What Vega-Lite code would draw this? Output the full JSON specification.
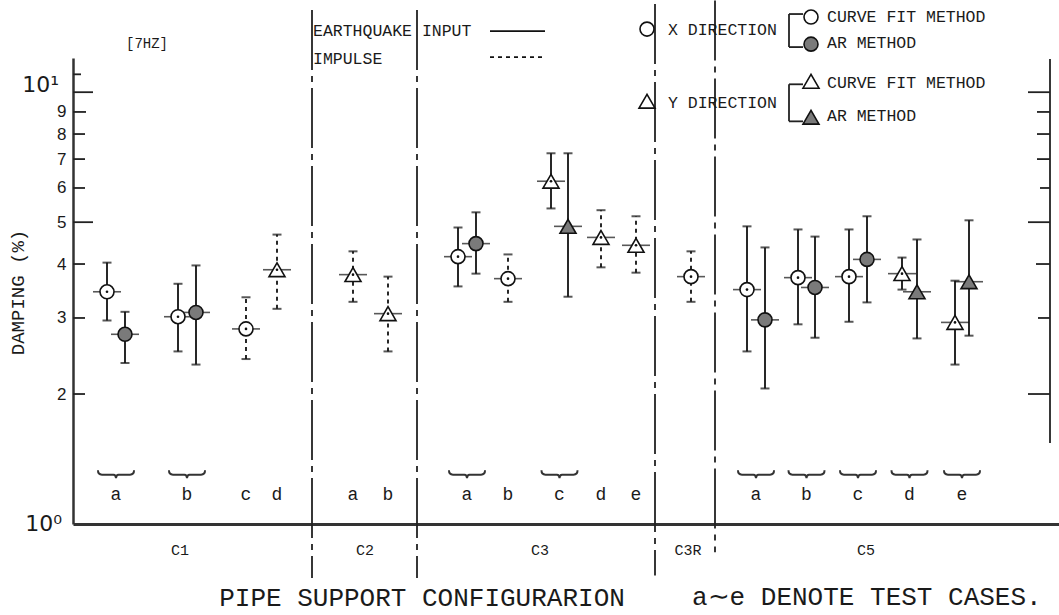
{
  "$schema": "https://vega.github.io/schema/vega-lite/v6.json",
  "width": 986,
  "height": 466,
  "autosize": "none",
  "padding": {"left": 73, "top": 58, "right": 0, "bottom": 91},
  "background": "white",
  "config": {"view": {"stroke": null}, "text": {"color": "#1a1a1a"}},
  "datasets": {
    "pts": [
      {"cfg": "C1", "case": "a", "dir": "X", "method": "CURVE FIT", "input": "EARTHQUAKE INPUT", "pos": 3.4, "val": 3.45, "lo": 2.96, "hi": 4.03},
      {"cfg": "C1", "case": "a", "dir": "X", "method": "AR", "input": "EARTHQUAKE INPUT", "pos": 5.2, "val": 2.75, "lo": 2.36, "hi": 3.10},
      {"cfg": "C1", "case": "b", "dir": "X", "method": "CURVE FIT", "input": "EARTHQUAKE INPUT", "pos": 10.5, "val": 3.02, "lo": 2.51, "hi": 3.60},
      {"cfg": "C1", "case": "b", "dir": "X", "method": "AR", "input": "EARTHQUAKE INPUT", "pos": 12.3, "val": 3.09, "lo": 2.34, "hi": 3.97},
      {"cfg": "C1", "case": "c", "dir": "X", "method": "CURVE FIT", "input": "IMPULSE", "pos": 17.3, "val": 2.83, "lo": 2.41, "hi": 3.35},
      {"cfg": "C1", "case": "d", "dir": "Y", "method": "CURVE FIT", "input": "IMPULSE", "pos": 20.4, "val": 3.88, "lo": 3.15, "hi": 4.68},
      {"cfg": "C2", "case": "a", "dir": "Y", "method": "CURVE FIT", "input": "IMPULSE", "pos": 28.0, "val": 3.78, "lo": 3.27, "hi": 4.28},
      {"cfg": "C2", "case": "b", "dir": "Y", "method": "CURVE FIT", "input": "IMPULSE", "pos": 31.5, "val": 3.07, "lo": 2.51, "hi": 3.74},
      {"cfg": "C3", "case": "a", "dir": "X", "method": "CURVE FIT", "input": "EARTHQUAKE INPUT", "pos": 38.5, "val": 4.16, "lo": 3.55, "hi": 4.86},
      {"cfg": "C3", "case": "a", "dir": "X", "method": "AR", "input": "EARTHQUAKE INPUT", "pos": 40.3, "val": 4.46, "lo": 3.80, "hi": 5.27},
      {"cfg": "C3", "case": "b", "dir": "X", "method": "CURVE FIT", "input": "IMPULSE", "pos": 43.5, "val": 3.70, "lo": 3.27, "hi": 4.21},
      {"cfg": "C3", "case": "c", "dir": "Y", "method": "CURVE FIT", "input": "EARTHQUAKE INPUT", "pos": 47.8, "val": 6.22, "lo": 5.38, "hi": 7.22},
      {"cfg": "C3", "case": "c", "dir": "Y", "method": "AR", "input": "EARTHQUAKE INPUT", "pos": 49.5, "val": 4.89, "lo": 3.36, "hi": 7.22},
      {"cfg": "C3", "case": "d", "dir": "Y", "method": "CURVE FIT", "input": "IMPULSE", "pos": 52.8, "val": 4.61, "lo": 3.93, "hi": 5.33},
      {"cfg": "C3", "case": "e", "dir": "Y", "method": "CURVE FIT", "input": "IMPULSE", "pos": 56.3, "val": 4.42, "lo": 3.82, "hi": 5.16},
      {"cfg": "C3R", "case": "", "dir": "X", "method": "CURVE FIT", "input": "IMPULSE", "pos": 61.8, "val": 3.74, "lo": 3.27, "hi": 4.28},
      {"cfg": "C5", "case": "a", "dir": "X", "method": "CURVE FIT", "input": "EARTHQUAKE INPUT", "pos": 67.4, "val": 3.49, "lo": 2.51, "hi": 4.89},
      {"cfg": "C5", "case": "a", "dir": "X", "method": "AR", "input": "EARTHQUAKE INPUT", "pos": 69.2, "val": 2.97, "lo": 2.06, "hi": 4.37},
      {"cfg": "C5", "case": "b", "dir": "X", "method": "CURVE FIT", "input": "EARTHQUAKE INPUT", "pos": 72.5, "val": 3.72, "lo": 2.90, "hi": 4.81},
      {"cfg": "C5", "case": "b", "dir": "X", "method": "AR", "input": "EARTHQUAKE INPUT", "pos": 74.2, "val": 3.53, "lo": 2.70, "hi": 4.63},
      {"cfg": "C5", "case": "c", "dir": "X", "method": "CURVE FIT", "input": "EARTHQUAKE INPUT", "pos": 77.6, "val": 3.74, "lo": 2.94, "hi": 4.81},
      {"cfg": "C5", "case": "c", "dir": "X", "method": "AR", "input": "EARTHQUAKE INPUT", "pos": 79.4, "val": 4.10, "lo": 3.26, "hi": 5.16},
      {"cfg": "C5", "case": "d", "dir": "Y", "method": "CURVE FIT", "input": "EARTHQUAKE INPUT", "pos": 82.9, "val": 3.80, "lo": 3.49, "hi": 4.14},
      {"cfg": "C5", "case": "d", "dir": "Y", "method": "AR", "input": "EARTHQUAKE INPUT", "pos": 84.4, "val": 3.45, "lo": 2.69, "hi": 4.56},
      {"cfg": "C5", "case": "e", "dir": "Y", "method": "CURVE FIT", "input": "EARTHQUAKE INPUT", "pos": 88.2, "val": 2.93, "lo": 2.34, "hi": 3.66},
      {"cfg": "C5", "case": "e", "dir": "Y", "method": "AR", "input": "EARTHQUAKE INPUT", "pos": 89.6, "val": 3.64, "lo": 2.73, "hi": 5.05}
    ],
    "dividers": [
      {"pos": 23.9, "top": 15.5, "bottom": 0.75},
      {"pos": 34.4, "top": 15.5, "bottom": 0.75},
      {"pos": 58.2, "top": 16.0, "bottom": 0.76},
      {"pos": 64.2, "top": 16.3, "bottom": 0.86}
    ],
    "segments": [
      {"x0": 0, "x1": 0.8, "y0": 11, "y1": 11},
      {"x0": 0, "x1": 2.0, "y0": 10, "y1": 10},
      {"x0": 0, "x1": 1.3, "y0": 9, "y1": 9},
      {"x0": 0, "x1": 1.2, "y0": 8, "y1": 8},
      {"x0": 0, "x1": 1.2, "y0": 7, "y1": 7},
      {"x0": 0, "x1": 1.2, "y0": 6, "y1": 6},
      {"x0": 0, "x1": 2.0, "y0": 5, "y1": 5},
      {"x0": 0, "x1": 1.2, "y0": 4, "y1": 4},
      {"x0": 0, "x1": 1.2, "y0": 3, "y1": 3},
      {"x0": 0, "x1": 1.2, "y0": 2, "y1": 2},
      {"x0": 97.7, "x1": 97.7, "y0": 1.54, "y1": 11.93},
      {"x0": 95.5, "x1": 97.7, "y0": 10, "y1": 10},
      {"x0": 96.4, "x1": 97.7, "y0": 9, "y1": 9},
      {"x0": 96.4, "x1": 97.7, "y0": 8, "y1": 8},
      {"x0": 96.4, "x1": 97.7, "y0": 7, "y1": 7},
      {"x0": 96.7, "x1": 97.7, "y0": 6, "y1": 6},
      {"x0": 95.5, "x1": 97.7, "y0": 5, "y1": 5},
      {"x0": 96.3, "x1": 97.7, "y0": 4, "y1": 4},
      {"x0": 96.5, "x1": 97.7, "y0": 3, "y1": 3},
      {"x0": 95.5, "x1": 97.7, "y0": 2, "y1": 2},
      {"x0": 71.6, "x1": 71.6, "y0": 15.17, "y1": 12.72},
      {"x0": 71.6, "x1": 73.0, "y0": 15.17, "y1": 15.17},
      {"x0": 71.6, "x1": 73.0, "y0": 12.72, "y1": 12.72},
      {"x0": 71.6, "x1": 71.6, "y0": 10.43, "y1": 8.56},
      {"x0": 71.6, "x1": 73.0, "y0": 10.43, "y1": 10.43},
      {"x0": 71.6, "x1": 73.0, "y0": 8.56, "y1": 8.56}
    ],
    "groups": [
      {"cfg": "C1", "pos": 10.7},
      {"cfg": "C2", "pos": 29.2},
      {"cfg": "C3", "pos": 46.7},
      {"cfg": "C3R", "pos": 61.5},
      {"cfg": "C5", "pos": 79.3}
    ],
    "legendSym": [
      {"dir": "X", "method": "CURVE FIT", "x": 73.8, "y": 14.93},
      {"dir": "X", "method": "AR", "x": 73.8, "y": 12.92},
      {"dir": "Y", "method": "CURVE FIT", "x": 73.8, "y": 10.6},
      {"dir": "Y", "method": "AR", "x": 73.8, "y": 8.75},
      {"dir": "X", "method": "CURVE FIT", "x": 57.4, "y": 14.0},
      {"dir": "Y", "method": "CURVE FIT", "x": 57.4, "y": 9.53}
    ],
    "legendLine": [
      {"input": "EARTHQUAKE INPUT", "x": 41.7, "x2": 47.2, "y": 13.85},
      {"input": "IMPULSE", "x": 41.7, "x2": 47.2, "y": 12.05}
    ],
    "legendText": [
      {"label": "EARTHQUAKE INPUT", "x": 24.0, "y": 13.85},
      {"label": "IMPULSE", "x": 24.0, "y": 11.93},
      {"label": "X DIRECTION", "x": 59.5, "y": 13.93},
      {"label": "Y DIRECTION", "x": 59.5, "y": 9.43},
      {"label": "CURVE FIT METHOD", "x": 75.4, "y": 14.93},
      {"label": "AR METHOD", "x": 75.4, "y": 12.99},
      {"label": "CURVE FIT METHOD", "x": 75.4, "y": 10.49},
      {"label": "AR METHOD", "x": 75.4, "y": 8.80}
    ]
  },
  "layer": [
    {
      "data": {"name": "dividers"},
      "mark": {"type": "rule", "strokeDash": [60, 6, 6, 6], "strokeWidth": 1.8, "color": "#222"},
      "encoding": {
        "x": {"field": "pos", "type": "quantitative", "scale": {"domain": [0, 98.6], "nice": false, "zero": false},
          "axis": {"orient": "bottom", "ticks": false, "labels": false, "grid": false, "domainColor": "#333", "domainWidth": 3,
            "title": "PIPE SUPPORT CONFIGURARION", "titleFont": "Liberation Mono", "titleFontSize": 26, "titleFontWeight": "normal", "titleColor": "#1a1a1a",
            "titleX": 348.5, "titleY": 73, "titleAlign": "center", "titleBaseline": "middle"}},
        "y": {"field": "top", "type": "quantitative", "scale": {"type": "log", "domain": [1, 12], "nice": false},
          "axis": {"values": [2, 3, 4, 5, 6, 7, 8, 9], "ticks": false, "grid": false, "domainColor": "#333", "domainWidth": 2.5,
            "labelFont": "Liberation Sans", "labelFontSize": 17, "labelColor": "#1a1a1a", "labelPadding": 7,
            "title": "DAMPING (%)", "titleFont": "Liberation Mono", "titleFontSize": 19, "titleFontWeight": "normal", "titleColor": "#1a1a1a",
            "titleAngle": 270, "titleX": -56, "titleY": 234, "titleAlign": "center", "titleBaseline": "middle"}},
        "y2": {"field": "bottom"}
      }
    },
    {
      "data": {"name": "segments"},
      "mark": {"type": "rule", "strokeWidth": 1.8, "color": "#222"},
      "encoding": {
        "x": {"field": "x0", "type": "quantitative"},
        "x2": {"field": "x1"},
        "y": {"field": "y0", "type": "quantitative"},
        "y2": {"field": "y1"}
      }
    },
    {
      "data": {"name": "pts"},
      "mark": {"type": "rule", "strokeWidth": 1.8, "color": "#111"},
      "encoding": {
        "x": {"field": "pos", "type": "quantitative"},
        "y": {"field": "lo", "type": "quantitative"},
        "y2": {"field": "hi"},
        "strokeDash": {"field": "input", "type": "nominal", "scale": {"domain": ["EARTHQUAKE INPUT", "IMPULSE"], "range": [[1, 0], [4, 4]]}, "legend": null}
      }
    },
    {
      "data": {"name": "pts"},
      "mark": {"type": "tick", "orient": "horizontal", "size": 9, "thickness": 2, "color": "#111"},
      "encoding": {"x": {"field": "pos", "type": "quantitative"}, "y": {"field": "lo", "type": "quantitative"}}
    },
    {
      "data": {"name": "pts"},
      "mark": {"type": "tick", "orient": "horizontal", "size": 9, "thickness": 2, "color": "#111"},
      "encoding": {"x": {"field": "pos", "type": "quantitative"}, "y": {"field": "hi", "type": "quantitative"}}
    },
    {
      "data": {"name": "pts"},
      "mark": {"type": "tick", "orient": "horizontal", "size": 28, "thickness": 1.6, "color": "#111"},
      "encoding": {"x": {"field": "pos", "type": "quantitative"}, "y": {"field": "val", "type": "quantitative"}}
    },
    {
      "data": {"name": "pts"},
      "mark": {"type": "point", "filled": true, "stroke": "#111", "strokeWidth": 1.6, "opacity": 1},
      "encoding": {
        "x": {"field": "pos", "type": "quantitative"},
        "y": {"field": "val", "type": "quantitative"},
        "shape": {"field": "dir", "type": "nominal", "scale": {"domain": ["X", "Y"], "range": ["circle", "triangle-up"]}, "legend": null},
        "size": {"field": "dir", "type": "nominal", "scale": {"domain": ["X", "Y"], "range": [196, 256]}, "legend": null},
        "fill": {"field": "method", "type": "nominal", "scale": {"domain": ["CURVE FIT", "AR"], "range": ["#ffffff", "#7a7a7a"]}, "legend": null}
      }
    },
    {
      "data": {"name": "pts"},
      "transform": [{"filter": "datum.method == 'CURVE FIT'"}],
      "mark": {"type": "point", "filled": true, "shape": "circle", "size": 7, "color": "#111", "opacity": 1},
      "encoding": {"x": {"field": "pos", "type": "quantitative"}, "y": {"field": "val", "type": "quantitative"}}
    },
    {
      "data": {"name": "legendLine"},
      "mark": {"type": "rule", "strokeWidth": 1.8, "color": "#111"},
      "encoding": {
        "x": {"field": "x", "type": "quantitative"},
        "x2": {"field": "x2"},
        "y": {"field": "y", "type": "quantitative"},
        "strokeDash": {"field": "input", "type": "nominal", "scale": {"domain": ["EARTHQUAKE INPUT", "IMPULSE"], "range": [[1, 0], [4, 4]]}, "legend": null}
      }
    },
    {
      "data": {"name": "legendSym"},
      "mark": {"type": "point", "filled": true, "stroke": "#111", "strokeWidth": 1.6, "opacity": 1},
      "encoding": {
        "x": {"field": "x", "type": "quantitative"},
        "y": {"field": "y", "type": "quantitative"},
        "shape": {"field": "dir", "type": "nominal", "scale": {"domain": ["X", "Y"], "range": ["circle", "triangle-up"]}, "legend": null},
        "size": {"field": "dir", "type": "nominal", "scale": {"domain": ["X", "Y"], "range": [196, 256]}, "legend": null},
        "fill": {"field": "method", "type": "nominal", "scale": {"domain": ["CURVE FIT", "AR"], "range": ["#ffffff", "#7a7a7a"]}, "legend": null}
      }
    },
    {
      "data": {"name": "legendText"},
      "mark": {"type": "text", "font": "Liberation Mono", "fontSize": 16.5, "align": "left", "baseline": "middle"},
      "encoding": {
        "x": {"field": "x", "type": "quantitative"},
        "y": {"field": "y", "type": "quantitative"},
        "text": {"field": "label"}
      }
    },
    {
      "data": {"name": "pts"},
      "transform": [
        {"filter": "datum.case != ''"},
        {"aggregate": [{"op": "mean", "field": "pos", "as": "mpos"}], "groupby": ["cfg", "case"]}
      ],
      "mark": {"type": "text", "font": "Liberation Mono", "fontSize": 18, "align": "center", "baseline": "middle"},
      "encoding": {
        "x": {"field": "mpos", "type": "quantitative"},
        "y": {"datum": 1.17},
        "text": {"field": "case"}
      }
    },
    {
      "data": {"name": "pts"},
      "transform": [
        {"filter": "datum.case != ''"},
        {"aggregate": [{"op": "mean", "field": "pos", "as": "mpos"}, {"op": "count", "as": "n"}], "groupby": ["cfg", "case"]},
        {"filter": "datum.n >= 2"}
      ],
      "mark": {"type": "point", "filled": false, "stroke": "#333", "strokeWidth": 2, "opacity": 1, "size": 1300,
        "shape": "M-1,-0.2 Q-1,0.04 -0.78,0.04 L-0.14,0.04 Q0,0.04 0,0.24 Q0,0.04 0.14,0.04 L0.78,0.04 Q1,0.04 1,-0.2"},
      "encoding": {
        "x": {"field": "mpos", "type": "quantitative"},
        "y": {"datum": 1.306}
      }
    },
    {
      "data": {"name": "groups"},
      "mark": {"type": "text", "font": "Liberation Mono", "fontSize": 15, "align": "center", "baseline": "middle"},
      "encoding": {
        "x": {"field": "pos", "type": "quantitative"},
        "y": {"datum": 0.87},
        "text": {"field": "cfg"}
      }
    },
    {
      "data": {"values": [{}]},
      "mark": {"type": "text", "font": "Liberation Mono", "fontSize": 14, "align": "center", "baseline": "middle", "text": "[7HZ]"},
      "encoding": {"x": {"datum": 7.4}, "y": {"datum": 12.92}}
    },
    {
      "data": {"values": [{}]},
      "mark": {"type": "text", "font": "Liberation Mono", "fontSize": 26, "align": "left", "baseline": "middle", "text": "a∼e DENOTE TEST CASES."},
      "encoding": {"x": {"datum": 61.9}, "y": {"datum": 0.677}}
    },
    {
      "data": {"values": [{}]},
      "mark": {"type": "text", "font": "DejaVu Sans", "fontSize": 22, "align": "right", "baseline": "middle", "text": "10¹"},
      "encoding": {"x": {"datum": -1.4}, "y": {"datum": 10.38}}
    },
    {
      "data": {"values": [{}]},
      "mark": {"type": "text", "font": "DejaVu Sans", "fontSize": 22, "align": "right", "baseline": "middle", "text": "10⁰"},
      "encoding": {"x": {"datum": -1.1}, "y": {"datum": 1.0}}
    }
  ]
}
